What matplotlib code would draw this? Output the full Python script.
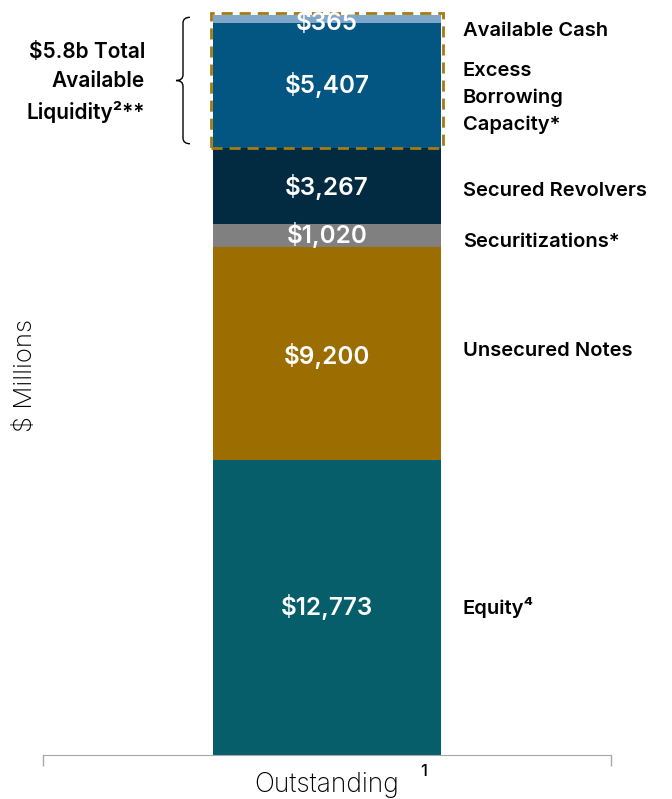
import matplotlib
matplotlib.use("Agg")
import matplotlib.pyplot as plt
import numpy as np
from matplotlib.patches import Rectangle
from matplotlib.path import Path
from matplotlib.patches import PathPatch

plt.rcParams['font.family'] = ['Inter', 'DejaVu Sans']

# 数据（自下而上）
segments = ['Equity', 'Unsecured Notes', 'Securitizations', 'Secured Revolvers',
            'Excess Borrowing Capacity', 'Available Cash']
values = [12773, 9200, 1020, 3267, 5407, 365]
value_labels = ['$12,773', '$9,200', '$1,020', '$3,267', '$5,407', '$365']
side_labels = ['Equity\u2074', 'Unsecured Notes', 'Securitizations*', 'Secured Revolvers',
               'Excess\nBorrowing\nCapacity*', 'Available Cash']
colors = ['#065e6b', '#9c6d00', '#808080', '#022b42', '#045682', '#7ea7ca']
category = 'Outstanding'
liquidity_text = '$5.8b Total\nAvailable\nLiquidity\u00b2**'

# 标签微调（像素，向下为正）
value_dy = [0, 2, -1, 1, -1, 4]
side_dy = [0, -3, 6, 5, 12, 12]

fig = plt.figure(figsize=(6.72, 7.99), dpi=100)
total = sum(values)
ax = fig.add_axes([43 / 672, 44 / 799, 568 / 672, 745 / 799])
ax.set_xlim(-0.5, 0.5)
ax.set_ylim(0, total * 745 / 740)

bottoms = np.concatenate([[0], np.cumsum(values)[:-1]])
bar_w = 228 / 568
ax.bar([0] * len(values), values, bottom=bottoms, width=bar_w, color=colors, linewidth=0)

for i in range(len(values)):
    yc = bottoms[i] + values[i] / 2
    ax.annotate(value_labels[i], (0, yc), xytext=(0, -value_dy[i] * 0.72), textcoords='offset points',
                ha='center', va='center', color='white', fontsize=17.5, fontweight='semibold')
    ax.annotate(side_labels[i], (bar_w / 2, yc), xytext=(22 * 0.72, -side_dy[i] * 0.72),
                textcoords='offset points', ha='left', va='center', color='black',
                fontsize=14.5, fontweight='semibold', linespacing=1.6)

# 流动性虚线框
liq_bottom = bottoms[4]
pad = 2 / 568
box = Rectangle((-bar_w / 2 - pad, liq_bottom), bar_w + 2 * pad, total - liq_bottom + 80,
                fill=False, edgecolor='#a47a12', linewidth=2, linestyle=(0, (4, 2.5)), clip_on=False)
ax.add_patch(box)

# 大括号
bx = -bar_w / 2 - 30 / 568
w = 7 / 568
y0, y1 = liq_bottom + 200, total - 100
ym = (y0 + y1) / 2
h = 250
verts = [(bx + w, y0), (bx, y0), (bx, y0 + h),
         (bx, ym - h), (bx, ym), (bx - w, ym),
         (bx, ym), (bx, ym + h),
         (bx, y1 - h), (bx, y1), (bx + w, y1)]
codes = [Path.MOVETO, Path.CURVE3, Path.CURVE3,
         Path.LINETO, Path.CURVE3, Path.CURVE3,
         Path.CURVE3, Path.CURVE3,
         Path.LINETO, Path.CURVE3, Path.CURVE3]
ax.add_patch(PathPatch(Path(verts, codes), fill=False, edgecolor='black', linewidth=1, clip_on=False))

ax.annotate(liquidity_text, (bx, ym), xytext=(-38 * 0.72, -2 * 0.72), textcoords='offset points',
            ha='right', va='center', fontsize=15, fontweight='semibold', linespacing=1.55)

# 坐标轴
for s in ['top', 'right', 'left']:
    ax.spines[s].set_visible(False)
ax.spines['bottom'].set_color('#a6a6a6')
ax.set_yticks([])
ax.set_xticks([-0.5, 0.5])
ax.set_xticklabels(['', ''])
ax.tick_params(axis='x', length=8, color='#a6a6a6', width=1)

fig.text(25 / 672, 1 - 375 / 799, '$ Millions', rotation=90, ha='center', va='center',
         fontsize=18.5, fontweight='light', color='black')
fig.text(327 / 672, 1 - 792 / 799, category, ha='center', va='baseline', fontsize=19,
         fontweight='light', color='black')
fig.text(424 / 672, 1 - 771 / 799, '1', ha='center', va='center', fontsize=12,
         fontweight='medium', color='black')

fig.savefig('out.png', dpi=100)
